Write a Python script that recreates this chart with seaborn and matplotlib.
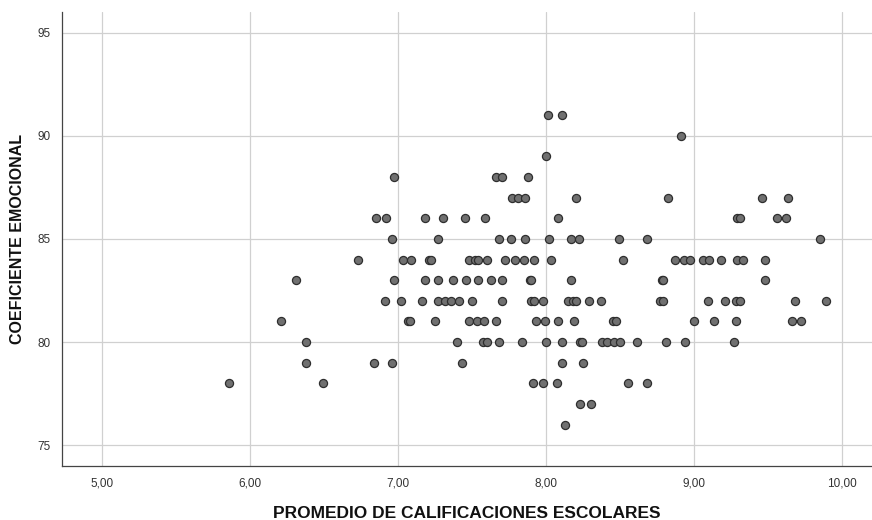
import numpy as np
import pandas as pd
import matplotlib
matplotlib.use("Agg")
import matplotlib.pyplot as plt
import seaborn as sns
from matplotlib.ticker import FuncFormatter

# promedio (x) grouped by coeficiente emocional (y)
rows = {
    76: [8.13],
    77: [8.23, 8.30],
    78: [5.86, 6.49, 7.91, 7.98, 8.07, 8.55, 8.68],
    79: [6.38, 6.84, 6.96, 7.43, 8.11, 8.25],
    80: [6.38, 7.40, 7.57, 7.60, 7.68, 7.84, 8.00, 8.11, 8.23, 8.24, 8.38,
         8.41, 8.46, 8.50, 8.61, 8.81, 8.94, 9.27],
    81: [6.21, 7.07, 7.08, 7.25, 7.48, 7.53, 7.58, 7.66, 7.93, 7.99, 8.08,
         8.19, 8.45, 8.47, 9.00, 9.13, 9.28, 9.66, 9.72],
    82: [6.91, 7.02, 7.16, 7.27, 7.32, 7.36, 7.41, 7.50, 7.70, 7.90, 7.92,
         7.98, 8.15, 8.18, 8.20, 8.29, 8.37, 8.77, 8.79, 9.09, 9.21, 9.28,
         9.31, 9.68, 9.89],
    83: [6.31, 6.97, 7.18, 7.27, 7.37, 7.46, 7.54, 7.63, 7.70, 7.89, 7.90,
         8.17, 8.78, 8.79, 9.48],
    84: [6.73, 7.03, 7.09, 7.21, 7.22, 7.48, 7.52, 7.54, 7.60, 7.72, 7.79,
         7.85, 7.92, 8.03, 8.52, 8.87, 8.93, 8.97, 9.06, 9.10, 9.18, 9.29,
         9.33, 9.48],
    85: [6.96, 7.27, 7.68, 7.76, 7.86, 8.02, 8.17, 8.22, 8.49, 8.68, 9.85],
    86: [6.85, 6.92, 7.18, 7.30, 7.45, 7.59, 8.08, 9.29, 9.31, 9.56, 9.62],
    87: [7.77, 7.81, 7.86, 8.20, 8.82, 9.46, 9.63],
    88: [6.97, 7.66, 7.70, 7.88],
    89: [8.00],
    90: [8.91],
    91: [8.01, 8.11],
}

promedio = []
coeficiente = []
for ce, xs in rows.items():
    promedio += xs
    coeficiente += [ce] * len(xs)

df = pd.DataFrame({"promedio": promedio, "coeficiente": coeficiente})

sns.set_style("white")
plt.rcParams["font.family"] = ["Liberation Sans", "DejaVu Sans"]

fig = plt.figure(figsize=(8.72, 5.2), dpi=100)
ax = fig.add_axes([0.071, 0.104, 0.929, 0.873])

sns.scatterplot(data=df, x="promedio", y="coeficiente", ax=ax,
                color="#707070", edgecolor="#2e2e2e", linewidth=0.9,
                s=34, alpha=1, zorder=3)

ax.set_xlim(4.73, 10.2)
ax.set_ylim(74, 96)
ax.set_xticks([5, 6, 7, 8, 9, 10])
ax.set_yticks([75, 80, 85, 90, 95])
ax.xaxis.set_major_formatter(FuncFormatter(lambda v, p: f"{v:.2f}".replace(".", ",")))
ax.grid(True, color="#d0d0d0", linewidth=0.9)
ax.set_axisbelow(True)
ax.tick_params(length=0, labelsize=8.5, colors="#333333", pad=8)

for s in ["top", "right"]:
    ax.spines[s].set_visible(False)
for s in ["left", "bottom"]:
    ax.spines[s].set_color("#444444")
    ax.spines[s].set_linewidth(0.9)

ax.set_xlabel("PROMEDIO DE CALIFICACIONES ESCOLARES", fontsize=12.5,
              fontweight="bold", labelpad=12, color="#111111")
ax.set_ylabel("COEFICIENTE EMOCIONAL", fontsize=11.5, fontweight="bold",
              labelpad=9, color="#111111")

fig.savefig("out.png", dpi=100)
